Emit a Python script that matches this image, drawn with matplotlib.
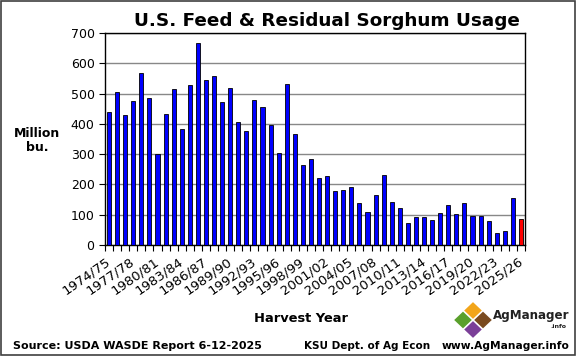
import matplotlib.pyplot as plt
from matplotlib.patches import Polygon, Rectangle

years = list(range(1974, 2026))
labels = ["{}/{:02d}".format(y, (y + 1) % 100) for y in years]
usage = [438, 505, 430, 475, 568, 485, 301, 432, 516, 383,
         527, 666, 546, 557, 471, 518, 405, 375, 478, 455,
         396, 305, 531, 366, 264, 284, 220, 229, 179, 183,
         191, 140, 108, 166, 231, 141, 123, 71, 93, 92,
         82, 107, 132, 101, 138, 96, 96, 79, 41, 45,
         155, 86]

fig = plt.figure(figsize=(5.76, 3.56), dpi=100)
fig.patches.append(Rectangle((0.002, 0.003), 0.996, 0.994, transform=fig.transFigure,
                             fill=False, edgecolor="#404040", linewidth=1.2))

ax = fig.add_axes([105 / 576, 1 - 245 / 356, 420 / 576, 212 / 356])
x = list(range(len(years)))
colors = ["#0000FF"] * (len(years) - 1) + ["#FF0000"]
ax.bar(x, usage, width=0.5, color=colors, edgecolor="black", linewidth=0.6, zorder=3)

ax.set_xlim(-0.5, len(years) - 0.5)
ax.set_ylim(0, 700)
ax.set_yticks(range(0, 701, 100))
ax.yaxis.grid(True, color="#888888", linewidth=1.0, zorder=0)
for s in ax.spines.values():
    s.set_linewidth(1.0)

ax.set_xticks(x[::3])
ax.set_xticklabels(labels[::3], rotation=35, ha="right", va="center",
                   rotation_mode="anchor", fontsize=9.5)
ax.set_xticks([i - 0.5 for i in range(len(years) + 1)], minor=True)
ax.tick_params(axis="x", which="major", length=0, pad=11)
ax.tick_params(axis="x", which="minor", length=4, width=0.8, direction="out")
ax.tick_params(axis="y", labelsize=9, length=4, width=0.8)

fig.text(327 / 576, 1 - 21 / 356, "U.S. Feed & Residual Sorghum Usage",
         ha="center", va="center", fontsize=13.2, fontweight="bold")
fig.text(37 / 576, 1 - 140 / 356, "Million\nbu.", ha="center", va="center",
         fontsize=9, fontweight="bold", linespacing=1.1)
fig.text(301 / 576, 1 - 318 / 356, "Harvest Year", ha="center", va="center",
         fontsize=9.4, fontweight="bold")
fig.text(13 / 576, 1 - 346 / 356, "Source: USDA WASDE Report 6-12-2025",
         ha="left", va="center", fontsize=8, fontweight="bold")
fig.text(304 / 576, 1 - 346 / 356, "KSU Dept. of Ag Econ", ha="left", va="center",
         fontsize=7.5, fontweight="bold")
fig.text(570 / 576, 1 - 346 / 356, "www.AgManager.info", ha="right", va="center",
         fontsize=7.7, fontweight="bold")

# logo
lg = fig.add_axes([453 / 576, 1 - 339 / 356, 40 / 576, 38 / 356])
lg.set_xlim(-1, 1)
lg.set_ylim(-1, 1)
lg.axis("off")
g = 0.06
quads = {
    "#F2A51A": [(0, 1), (0.5, 0.5), (0, 0), (-0.5, 0.5)],
    "#5AA02C": [(-1, 0), (-0.5, 0.5), (0, 0), (-0.5, -0.5)],
    "#7A4A1E": [(1, 0), (0.5, 0.5), (0, 0), (0.5, -0.5)],
    "#7B3F98": [(0, -1), (0.5, -0.5), (0, 0), (-0.5, -0.5)],
}
for c, pts in quads.items():
    cx = sum(p[0] for p in pts) / 4
    cy = sum(p[1] for p in pts) / 4
    shrunk = [(cx + (px - cx) * (1 - g * 2), cy + (py - cy) * (1 - g * 2)) for px, py in pts]
    lg.add_patch(Polygon(shrunk, closed=True, facecolor=c, edgecolor="none"))
fig.text(493 / 576, 1 - 316 / 356, "AgManager", ha="left", va="center",
         fontsize=8.6, fontweight="bold", color="#222222")
fig.text(566 / 576, 1 - 327 / 356, ".info", ha="right", va="center",
         fontsize=4.5, fontweight="bold", color="#222222")

fig.savefig("out.png", dpi=100)
